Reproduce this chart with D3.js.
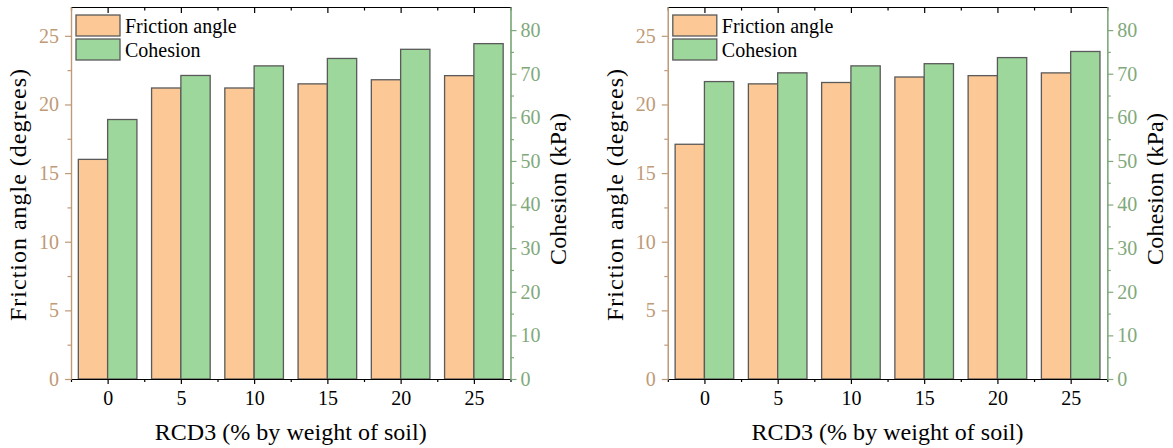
<!DOCTYPE html>
<html>
<head>
<meta charset="utf-8">
<script src="https://cdn.jsdelivr.net/npm/d3@7"></script>
<style>
  body { margin: 0; background: #fff; }
</style>
</head>
<body>
<div id="chart"></div>
<script>
// RCD3 content (% by weight of soil)
const categories = [0, 5, 10, 15, 20, 25];

// left panel
const frictionLeft = [16.0, 21.2, 21.2, 21.5, 21.8, 22.1];
const cohesionLeft = [59.5, 69.6, 71.8, 73.5, 75.6, 76.9];

// right panel
const frictionRight = [17.1, 21.5, 21.6, 22.0, 22.1, 22.3];
const cohesionRight = [68.2, 70.2, 71.8, 72.3, 73.7, 75.1];

const frictionTicks = [0, 5, 10, 15, 20, 25];
const cohesionTicks = [0, 10, 20, 30, 40, 50, 60, 70, 80];
const seriesNames = ["Friction angle", "Cohesion"];

const width = 1173, height = 448;
const serif = "Liberation Serif";
const tanColor = "#bf9a76", greenColor = "#7fa97b";
const fills = ["#fbc896", "#9dd79b"];

const svg = d3.select("#chart").append("svg")
    .attr("width", width)
    .attr("height", height);

function drawPanel(left, friction, cohesion) {
    const w = 439.5, top = 7, bottom = 379;
    const g = svg.append("g").attr("transform", `translate(${left},0)`);

    const x = d3.scaleLinear().domain([-2.5, 27.5]).range([0, w]);
    const yL = d3.scaleLinear().domain([0, 27.1]).range([bottom, top]);
    const yR = d3.scaleLinear().domain([0, 85.3]).range([bottom, top]);

    // bars: friction on the left of the category, cohesion on the right
    g.selectAll("rect.fr")
        .data(categories)
        .enter().append("rect")
        .attr("class", "fr")
        .attr("x", d => x(d - 2))
        .attr("width", d => x(d) - x(d - 2))
        .attr("y", (d, i) => yL(friction[i]))
        .attr("height", (d, i) => bottom - yL(friction[i]))
        .attr("fill", fills[0])
        .attr("stroke", "#5a5a5a")
        .attr("stroke-width", 1.3);

    g.selectAll("rect.co")
        .data(categories)
        .enter().append("rect")
        .attr("class", "co")
        .attr("x", d => x(d))
        .attr("width", d => x(d + 2) - x(d))
        .attr("y", (d, i) => yR(cohesion[i]))
        .attr("height", (d, i) => bottom - yR(cohesion[i]))
        .attr("fill", fills[1])
        .attr("stroke", "#5a5a5a")
        .attr("stroke-width", 1.3);

    const minorX = categories.map(d => d - 2.5).concat([27.5]);

    // bottom axis
    g.append("g")
        .attr("transform", `translate(0,${bottom})`)
        .call(d3.axisBottom(x).tickValues(minorX).tickSize(3).tickSizeOuter(0).tickFormat(""));
    g.append("g")
        .attr("transform", `translate(0,${bottom})`)
        .call(d3.axisBottom(x).tickValues(categories).tickSize(5).tickSizeOuter(0).tickPadding(7))
        .selectAll("text")
        .attr("fill", "#000");

    // top axis, ticks inward
    g.append("g")
        .attr("transform", `translate(0,${top})`)
        .call(d3.axisTop(x).tickValues(minorX).tickSize(-3.5).tickSizeOuter(0).tickFormat(""));
    g.append("g")
        .attr("transform", `translate(0,${top})`)
        .call(d3.axisTop(x).tickValues(categories).tickSize(-6).tickSizeOuter(0).tickFormat(""));

    g.selectAll(".domain, .tick line").attr("stroke", "#000").attr("stroke-width", 1.2);

    // left axis (friction angle)
    const la = g.append("g");
    la.call(d3.axisLeft(yL).tickValues([2.5, 7.5, 12.5, 17.5, 22.5]).tickSize(3.5).tickSizeOuter(0).tickFormat(""));
    la.append("g").call(d3.axisLeft(yL).tickValues(frictionTicks).tickSize(6).tickSizeOuter(0).tickPadding(6))
        .selectAll("text")
        .attr("fill", tanColor);
    la.selectAll(".domain, .tick line").attr("stroke", tanColor).attr("stroke-width", 1.2);

    // right axis (cohesion)
    const ra = g.append("g").attr("transform", `translate(${w},0)`);
    ra.call(d3.axisRight(yR).tickValues([5, 15, 25, 35, 45, 55, 65, 75]).tickSize(3.5).tickSizeOuter(0).tickFormat(""));
    ra.append("g").call(d3.axisRight(yR).tickValues(cohesionTicks).tickSize(6).tickSizeOuter(0).tickPadding(4))
        .selectAll("text")
        .attr("fill", greenColor);
    ra.selectAll(".domain, .tick line").attr("stroke", greenColor).attr("stroke-width", 1.2);

    g.selectAll(".tick text")
        .attr("font-family", serif)
        .attr("font-size", 20);

    // axis titles
    g.append("text")
        .attr("x", w / 2)
        .attr("y", 439.5)
        .attr("text-anchor", "middle")
        .attr("textLength", 272)
        .attr("lengthAdjust", "spacing")
        .text("RCD3 (% by weight of soil)");
    g.append("text")
        .attr("transform", `translate(-45,195) rotate(-90)`)
        .attr("text-anchor", "middle")
        .attr("textLength", 252)
        .attr("lengthAdjust", "spacing")
        .text("Friction angle (degrees)");
    g.append("text")
        .attr("transform", `translate(${w + 55.5},189) rotate(-90)`)
        .attr("text-anchor", "middle")
        .attr("textLength", 152)
        .attr("lengthAdjust", "spacing")
        .text("Cohesion (kPa)");
    g.selectAll(":scope > text")
        .attr("font-family", serif)
        .attr("font-size", 24)
        .attr("fill", "#000");

    // legend
    const lg = g.append("g").attr("transform", "translate(5,8)");
    seriesNames.forEach((name, i) => {
        lg.append("rect")
            .attr("x", 0)
            .attr("y", 7 + i * 24)
            .attr("width", 44)
            .attr("height", 21)
            .attr("fill", fills[i])
            .attr("stroke", "#5a5a5a")
            .attr("stroke-width", 1.3);
        lg.append("text")
            .attr("x", 49)
            .attr("y", 24.5 + i * 24)
            .attr("font-family", serif)
            .attr("font-size", 20)
            .text(name);
    });
}

drawPanel(71, frictionLeft, cohesionLeft);
drawPanel(667.8, frictionRight, cohesionRight);
</script>
</body>
</html>
